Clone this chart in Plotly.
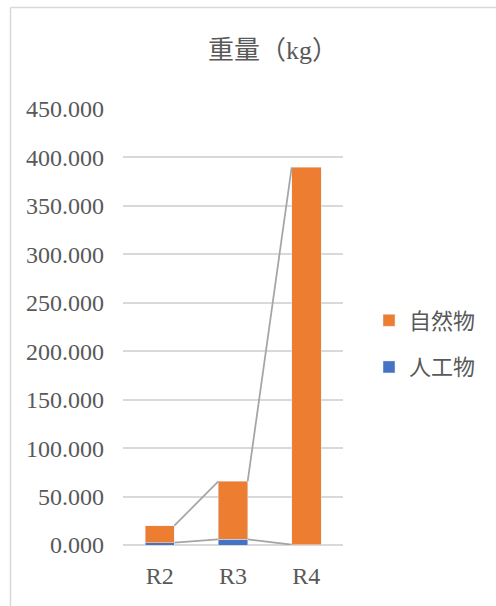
import plotly.graph_objects as go

# Stacked weight per round, with Excel-style series lines between the bars
categories = ["R2", "R3", "R4"]
artificial = [2.4, 5.9, 0.3]      # 人工物
natural = [17.5, 59.8, 389.5]     # 自然物
y_ticks = [0, 50, 100, 150, 200, 250, 300, 350, 400, 450]

ORANGE = "#ED7D31"
BLUE = "#4472C4"
TEXT = "#595959"
GRID = "#D9D9D9"
SERIES_LINE = "#A5A5A5"
BAR_WIDTH = 0.4
FONT = "Liberation Serif, Noto Sans CJK JP, serif"

xpos = list(range(len(categories)))
totals = [a + n for a, n in zip(artificial, natural)]

fig = go.Figure()
fig.add_bar(x=xpos, y=artificial, name="人工物", marker_color=BLUE,
            width=BAR_WIDTH, legendgroup="a", legendrank=2)
fig.add_bar(x=xpos, y=natural, name="自然物", marker_color=ORANGE,
            width=BAR_WIDTH, legendgroup="n", legendrank=1)

# series lines: join the top of each segment from one bar's right edge
# to the next bar's left edge
half = BAR_WIDTH / 2
for tops in (artificial, totals):
    lx, ly = [], []
    for i in range(len(xpos) - 1):
        lx += [xpos[i] + half, xpos[i + 1] - half, None]
        ly += [tops[i], tops[i + 1], None]
    fig.add_scatter(x=lx, y=ly, mode="lines", showlegend=False,
                    line=dict(color=SERIES_LINE, width=1.75), hoverinfo="skip")

L, R, T, B = 123, 153, 109, 61
W, H = 496, 606
pw, ph = W - L - R, H - T - B

def px_x(p):
    return (p - L) / pw

def px_y(p):
    return (H - B - p) / ph

fig.update_layout(
    width=W, height=H,
    margin=dict(l=L, r=R, t=T, b=B, autoexpand=False),
    barmode="stack",
    plot_bgcolor="white", paper_bgcolor="white",
    font=dict(family=FONT, color=TEXT, size=24),
    title=dict(text="重量（kg）", x=px_x(273), xref="paper", xanchor="center",
               y=1 - 50 / H, yref="container", yanchor="middle",
               font=dict(size=26, color=TEXT, family=FONT)),
    xaxis=dict(range=[-0.5, 2.5], tickvals=xpos, ticktext=categories,
               showgrid=False, zeroline=False, showline=False,
               ticks="", ticklabelstandoff=14, fixedrange=True),
    yaxis=dict(range=[0, 450], tickvals=y_ticks,
               ticktext=[f"{v:.3f}" for v in y_ticks],
               showgrid=True, gridcolor=GRID, gridwidth=1.5,
               zeroline=True, zerolinecolor=GRID, zerolinewidth=1.5,
               showline=False, ticks="", ticklabelstandoff=18,
               fixedrange=True),
    legend=dict(x=px_x(369), xanchor="left", y=px_y(344), yanchor="middle",
                traceorder="grouped", tracegroupgap=15,
                font=dict(size=22, color=TEXT, family=FONT),
                bgcolor="rgba(0,0,0,0)"),
    bargap=0.6,
    shapes=[
        dict(type="line", xref="paper", yref="paper",
             x0=px_x(10.5), x1=px_x(10.5), y0=px_y(7.5), y1=px_y(610),
             line=dict(color=GRID, width=1.5)),
        dict(type="line", xref="paper", yref="paper",
             x0=px_x(10.5), x1=px_x(500), y0=px_y(7.5), y1=px_y(7.5),
             line=dict(color=GRID, width=1.5)),
    ],
)

fig.write_html("out.html")
